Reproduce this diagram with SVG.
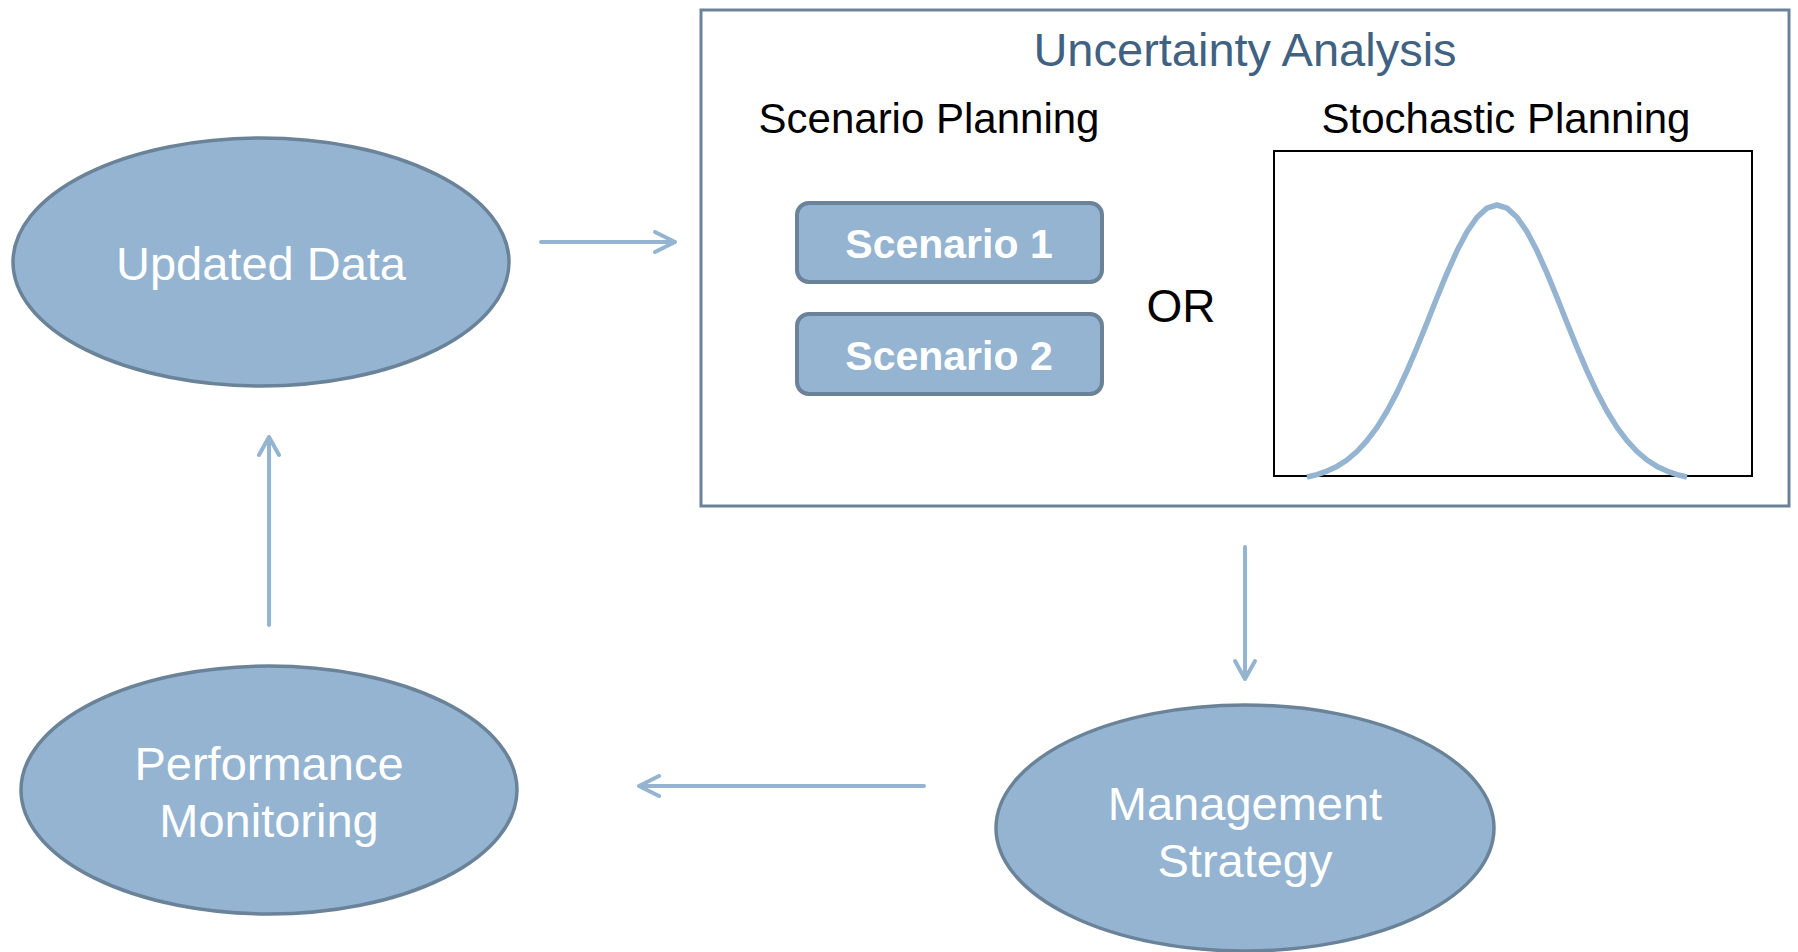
<svg xmlns="http://www.w3.org/2000/svg" width="1798" height="952" viewBox="0 0 1798 952">
<style>
.node{fill:#94b4d1;stroke:#6a8399;stroke-width:3.5}
.box{fill:#94b4d1;stroke:#6a8399;stroke-width:4}
.ntext{font-family:"Liberation Sans",Arial,sans-serif;font-size:47px;fill:#ffffff;text-anchor:middle}
.btext{font-family:"Liberation Sans",Arial,sans-serif;font-size:41px;font-weight:bold;fill:#ffffff;text-anchor:middle}
.ktext{font-family:"Liberation Sans",Arial,sans-serif;font-size:42px;fill:#000000;text-anchor:middle}
.conn{stroke:#94b4d1;stroke-width:4;fill:none;stroke-linecap:round;stroke-linejoin:round}
</style>
<rect width="1798" height="952" fill="#ffffff"/>
<g id="uncertainty-analysis">
<rect x="701" y="10" width="1088" height="496" fill="#ffffff" stroke="#6a8399" stroke-width="3"/>
<text x="1245" y="66" style="font-family:'Liberation Sans',Arial,sans-serif;font-size:47px;fill:#3f6283;text-anchor:middle">Uncertainty Analysis</text>
<text class="ktext" x="929" y="133">Scenario Planning</text>
<text class="ktext" x="1506" y="133">Stochastic Planning</text>
<text x="1181" y="322" style="font-family:'Liberation Sans',Arial,sans-serif;font-size:46px;fill:#000000;text-anchor:middle">OR</text>
</g>
<g id="scenario-1">
<rect class="box" x="797" y="203" width="305" height="79" rx="12"/>
<text class="btext" x="949" y="258">Scenario 1</text>
</g>
<g id="scenario-2">
<rect class="box" x="797" y="314" width="305" height="80" rx="12"/>
<text class="btext" x="949" y="370">Scenario 2</text>
</g>
<g id="stochastic-plot">
<rect x="1274" y="151" width="478" height="325" fill="#ffffff" stroke="#000000" stroke-width="2"/>
<path d="M1307,477 L1317,474.6 L1327,471.1 L1337,466.4 L1347,460 L1357,451.5 L1367,440.7 L1377,427.4 L1387,411.2 L1397,392.4 L1407,370.9 L1417,347.5 L1427,322.7 L1437,297.5 L1447,273.1 L1457,250.8 L1467,231.8 L1477,217.2 L1487,208.1 L1497,205 L1507,208.1 L1517,217.2 L1527,231.8 L1537,250.8 L1547,273.1 L1557,297.5 L1567,322.7 L1577,347.5 L1587,370.9 L1597,392.4 L1607,411.2 L1617,427.4 L1627,440.7 L1637,451.5 L1647,460 L1657,466.4 L1667,471.1 L1677,474.6 L1687,477" fill="none" stroke="#94b4d1" stroke-width="5.5" stroke-linejoin="round"/>
</g>
<g id="updated-data">
<ellipse class="node" cx="261" cy="262" rx="248" ry="124"/>
<text class="ntext" x="261" y="280">Updated Data</text>
</g>
<g id="management-strategy">
<ellipse class="node" cx="1245" cy="828" rx="249" ry="123"/>
<text class="ntext" x="1245" y="820">Management</text>
<text class="ntext" x="1245" y="877">Strategy</text>
</g>
<g id="performance-monitoring">
<ellipse class="node" cx="269" cy="790" rx="248" ry="124"/>
<text class="ntext" x="269" y="780">Performance</text>
<text class="ntext" x="269" y="837">Monitoring</text>
</g>
<g id="connectors">
<path class="conn" d="M541,242 L675,242 M655,232 L675,242 L655,252"/>
<path class="conn" d="M1245,547 L1245,679 M1235,661 L1245,679 L1255,661"/>
<path class="conn" d="M924,786 L639,786 M659,776 L639,786 L659,796"/>
<path class="conn" d="M269,625 L269,437 M259,455 L269,437 L279,455"/>
</g>
</svg>
